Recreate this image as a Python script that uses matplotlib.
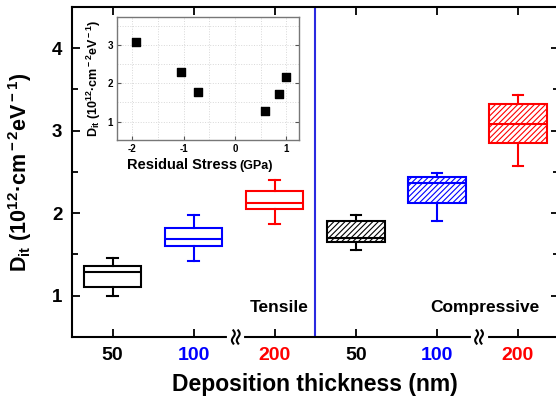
import matplotlib
matplotlib.use("Agg")
import matplotlib.pyplot as plt
import matplotlib.transforms as mtransforms
import numpy as np

plt.rcParams['font.family'] = ['Liberation Sans', 'DejaVu Sans']
plt.rcParams['font.weight'] = 'bold'
plt.rcParams['mathtext.fontset'] = 'custom'
plt.rcParams['mathtext.rm'] = 'Liberation Sans:bold'
plt.rcParams['mathtext.bf'] = 'Liberation Sans:bold'
plt.rcParams['mathtext.it'] = 'Liberation Sans:bold'
plt.rcParams['hatch.linewidth'] = 0.8

# ---- data ----
tick_labels = ['50', '100', '200', '50', '100', '200']
tick_colors = ['black', 'blue', 'red', 'black', 'blue', 'red']
whislo = [1.00, 1.42, 1.87, 1.55, 1.91, 2.57]
q1     = [1.11, 1.60, 2.05, 1.65, 2.13, 2.85]
med    = [1.29, 1.69, 2.12, 1.70, 2.37, 3.08]
q3     = [1.36, 1.82, 2.27, 1.90, 2.44, 3.32]
whishi = [1.46, 1.98, 2.40, 1.98, 2.49, 3.43]
hatched = [False, False, False, True, True, True]

stress = [-1.93, -1.05, -0.72, 0.58, 0.86, 1.00]
dit    = [3.07, 2.30, 1.77, 1.27, 1.71, 2.16]

fig = plt.figure(figsize=(5.56, 4.01), dpi=100)
ax = fig.add_axes([72/556, 64/401, 486.5/556, 330/401])

positions = np.arange(1, 7)
for i, p in enumerate(positions):
    st = dict(whislo=whislo[i], q1=q1[i], med=med[i], q3=q3[i], whishi=whishi[i], fliers=[])
    c = tick_colors[i]
    ax.bxp([st], positions=[p], widths=0.71, showfliers=False, patch_artist=True,
           boxprops=dict(facecolor='white', edgecolor=c, linewidth=1.5,
                         hatch='//////' if hatched[i] else None),
           medianprops=dict(color=c, linewidth=1.5),
           whiskerprops=dict(color=c, linewidth=1.5),
           capprops=dict(color=c, linewidth=1.5),
           capwidths=0.13)

ax.axvline(3.5, color='#2a2ae0', linewidth=1.5)

ax.set_xlim(0.5, 6.5)
ax.set_ylim(0.5, 4.5)
ax.set_xticks(positions)
ax.set_xticklabels(tick_labels, fontsize=14, fontweight='bold')
for t, c in zip(ax.get_xticklabels(), tick_colors):
    t.set_color(c)
ax.set_yticks([1, 2, 3, 4])
ax.set_yticks([1.5, 2.5, 3.5], minor=True)
ax.set_yticklabels(['1', '2', '3', '4'], fontsize=13.5, fontweight='bold')
ax.tick_params(axis='both', which='both', direction='in', top=True, right=True, width=1.3)
ax.tick_params(axis='both', which='major', length=6, pad=7)
ax.tick_params(axis='both', which='minor', length=4)
ax.tick_params(axis='x', which='minor', bottom=False, top=False)
for s in ax.spines.values():
    s.set_linewidth(1.5)

ax.set_xlabel('Deposition thickness (nm)', fontsize=16.5, fontweight='bold', labelpad=7)
ax.set_ylabel(r'D$_{\rm it}$ (10$^{\rm 12}$·cm$^{\rm -2}$eV$^{\rm -1}$)', fontsize=15.5,
              fontweight='bold', labelpad=13)

ax.text(3.06, 0.86, 'Tensile', fontsize=12.5, fontweight='bold', ha='center', va='center')
ax.text(5.59, 0.86, 'Compressive', fontsize=12.5, fontweight='bold', ha='center', va='center')

# axis break marks
trans = mtransforms.blended_transform_factory(ax.transData, ax.transAxes)
for xb in [2.52, 5.52]:
    ax.plot([xb - 0.08, xb + 0.08], [0, 0], color='white', lw=3, transform=trans,
            clip_on=False, zorder=10)
    yy = np.linspace(-0.02, 0.02, 30)
    for dx in [-0.03, 0.03]:
        xx = xb + dx + 0.018 * np.sin(yy / 0.02 * np.pi)
        ax.plot(xx, yy, color='black', lw=1.5, transform=trans, clip_on=False, zorder=11)

# inset
ins = fig.add_axes([117/556, 261/401, 182/556, 123/401])
ins.scatter(stress, dit, marker='s', s=30, color='black', zorder=3)
ins.set_xlim(-2.3, 1.25)
ins.set_ylim(0.52, 3.73)
ins.set_xticks([-2, -1, 0, 1])
ins.set_xticks([-1.5, -0.5, 0.5], minor=True)
ins.set_yticks([1, 2, 3])
ins.set_yticks([1.5, 2.5, 3.5], minor=True)
ins.set_xticklabels(['-2', '-1', '0', '1'], fontsize=7, fontweight='bold')
ins.set_yticklabels(['1', '2', '3'], fontsize=7, fontweight='bold')
ins.grid(True, which='both', color='#d8d8d8', linestyle=':', linewidth=0.7)
ins.tick_params(axis='both', which='both', direction='in', right=True, length=3, width=0.8,
                color='#555555', pad=3)
ins.tick_params(axis='both', which='minor', length=0)
for s in ins.spines.values():
    s.set_color('#777777')
    s.set_linewidth(1.0)
ins.set_ylabel(r'D$_{\rm it}$ (10$^{\rm 12}$·cm$^{\rm -2}$eV$^{\rm -1}$)', fontsize=9,
               fontweight='bold', labelpad=3)
ins.text(0.66, -0.205, 'Residual Stress', fontsize=10.5, fontweight='bold', ha='right',
         va='center', transform=ins.transAxes)
ins.text(0.672, -0.21, '(GPa)', fontsize=9, fontweight='bold', ha='left',
         va='center', transform=ins.transAxes)

fig.savefig('out.png', dpi=100)
